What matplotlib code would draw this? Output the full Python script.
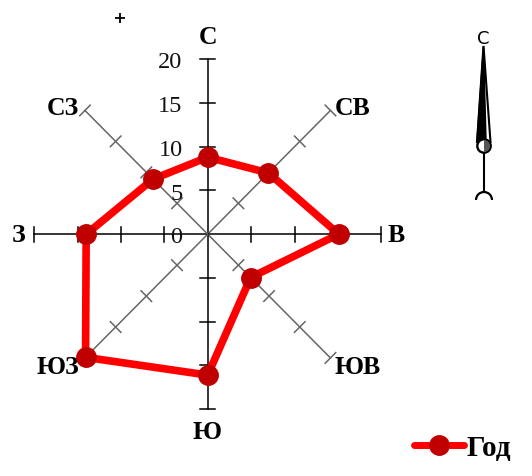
import numpy as np
import matplotlib
matplotlib.use("Agg")
import matplotlib.pyplot as plt
from matplotlib.patches import Polygon, Circle, Wedge, Arc

directions = ["С", "СВ", "В", "ЮВ", "Ю", "ЮЗ", "З", "СЗ"]
values = [8.8, 9.9, 15.1, 7.0, 16.1, 19.9, 14.0, 8.9]
ticks = [0, 5, 10, 15, 20]
series_name = "Год"

W, H = 532, 477
cx, cy, scale_x, scale_y = 207.7, 235.2, 8.68, 8.75
serif = "Liberation Serif"

fig = plt.figure(figsize=(W / 100, H / 100), dpi=100)
fig.patch.set_facecolor("white")

# Chart axes: data units are wind-rose values
ax = fig.add_axes([0, 0, 1, 1])
ax.set_xlim(-cx / scale_x, (W - cx) / scale_x)
ax.set_ylim(-(H - cy) / scale_y, cy / scale_y)
ax.axis("off")

angles = np.arange(len(directions)) * 2 * np.pi / len(directions)
ux, uy = np.sin(angles), np.cos(angles)
rmax = ticks[-1]
half = 7.5 / scale_y

for i, name in enumerate(directions):
    color = "#000000" if i % 2 == 0 else "#666666"
    ax.plot([0, rmax * ux[i]], [0, rmax * uy[i]], color=color, lw=1.1, zorder=1)
    for t in ticks[1:]:
        px, py = t * ux[i], t * uy[i]
        ax.plot([px - half * uy[i], px + half * uy[i]],
                [py + half * ux[i], py - half * ux[i]],
                color=color, lw=1.1, zorder=1)

# Radial value labels
for t in ticks:
    ax.text(-2.9, t - 0.3, str(t), ha="right", va="center",
            family=serif, fontsize=17.5, color="#111111", zorder=2)

# Direction labels
offsets = {"С": (0, 2.65), "СВ": (2.6, 0.35), "В": (1.75, -0.05), "ЮВ": (3.15, -0.95),
           "Ю": (-0.1, -2.6), "ЮЗ": (-3.1, -0.95), "З": (-1.8, -0.05), "СЗ": (-2.6, 0.35)}
for i, name in enumerate(directions):
    dx, dy = offsets[name]
    ax.text(rmax * ux[i] + dx, rmax * uy[i] + dy, name, ha="center", va="center",
            family=serif, fontweight="bold", fontsize=18.5, color="black", zorder=2)

# Data
xs = np.array(values) * ux
ys = np.array(values) * uy
ax.plot(np.append(xs, xs[0]), np.append(ys, ys[0]), color="#FF0000", lw=5.5,
        solid_joinstyle="miter", zorder=3)
ax.plot(xs, ys, ls="none", marker="o", ms=14, mfc="#C00000", mec="#C00000", zorder=4)

# Legend
line = plt.Line2D([], [], color="#FF0000", lw=5.0, marker="o", ms=14,
                  mfc="#C00000", mec="#C00000", solid_capstyle="round")
ax.legend([line], [series_name], loc="center left", bbox_to_anchor=(414 / W, 1 - 449 / H),
          frameon=False, handlelength=1.72, handletextpad=0.08, borderpad=0, borderaxespad=0,
          prop={"family": serif, "weight": "bold", "size": 21})

# Decoration in pixel coordinates: plus sign and compass needle
deco = fig.add_axes([0, 0, 1, 1], facecolor="none")
deco.set_xlim(0, W)
deco.set_ylim(H, 0)
deco.axis("off")
deco.plot([120], [19], marker="+", ms=6.5, mew=1.3, color="black")
deco.text(483, 38.5, "С", ha="center", va="center", fontsize=13, family="DejaVu Sans", color="black")
deco.add_patch(Polygon([(483.5, 47), (490.5, 143), (477, 143)], closed=True,
                       fc="white", ec="black", lw=1.5))
deco.add_patch(Polygon([(483.5, 47), (486, 141), (477, 141)], closed=True, fc="black", ec="black", lw=1.0))
deco.plot([484, 484], [147, 193], color="black", lw=1.5)
deco.add_patch(Circle((484, 147), 6.7, fc="white", ec="black", lw=1.7, zorder=3))
deco.add_patch(Wedge((484, 147), 6.0, -90, 90, fc="#555555", ec="none", zorder=4))
deco.add_patch(Arc((484, 201), 16, 16, theta1=180, theta2=360, ec="black", lw=1.6))

fig.savefig("out.png", dpi=100)
